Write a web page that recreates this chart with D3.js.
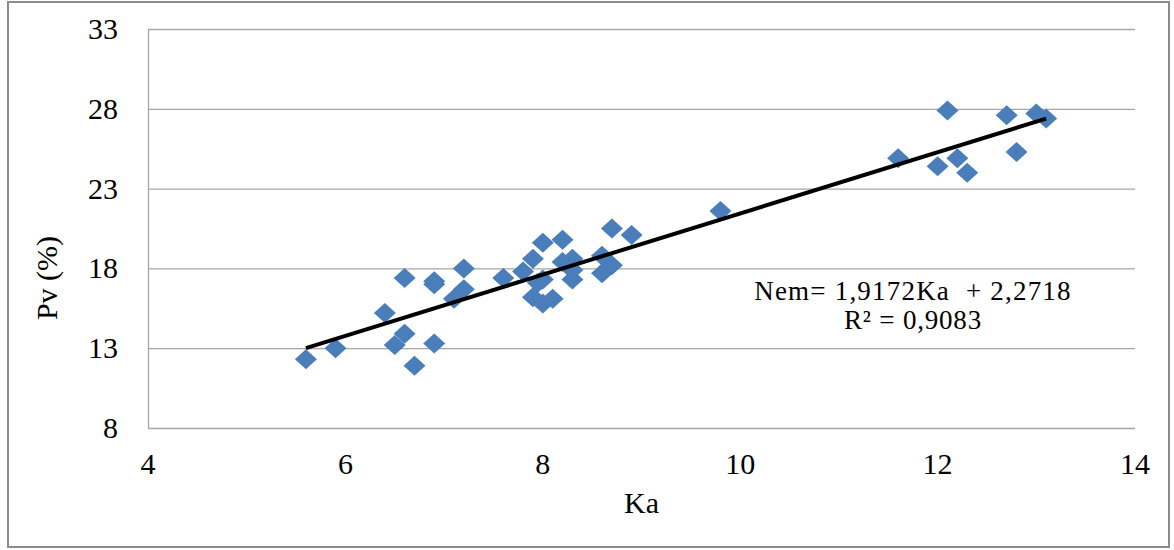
<!DOCTYPE html>
<html><head><meta charset="utf-8">
<script src="https://cdn.jsdelivr.net/npm/d3@7"></script>
<style>body{margin:0;background:#fff}</style>
</head><body>
<svg id="chart" width="1174" height="550"></svg>
<script>
const kaValues = [5.6,5.9,6.4,6.5,6.6,6.6,6.7,6.9,6.9,6.9,7.1,7.2,7.2,7.6,7.8,7.9,8.0,8.2,7.95,8.0,7.9,8.0,8.1,8.2,8.3,8.3,8.3,8.6,8.6,8.7,8.7,8.9,9.8,11.6,12.1,12.0,12.2,12.3,12.7,12.8,13.0,13.1];
const pvValues = [12.3,13.0,15.2,13.2,13.9,17.4,11.9,13.3,17.2,17.0,16.1,16.7,18.0,17.4,17.8,18.6,19.6,19.8,17.1,17.3,16.2,15.8,16.1,18.4,18.6,17.3,17.9,18.8,17.7,18.2,20.5,20.1,21.6,24.9,27.9,24.4,24.9,24.0,27.6,25.3,27.7,27.4];
const xTicks = [4,6,8,10,12,14];
const yTicks = [8,13,18,23,28,33];
const slope = 1.9172, intercept = 2.2718;
const eqLine1 = "Nem= 1,9172Ka  + 2,2718";
const eqLine2 = "R² = 0,9083";

const svg = d3.select("#chart");
const font = "'Liberation Serif','Times New Roman',serif";
const L = 148, R = 1135, T = 29, B = 428;
const x = d3.scaleLinear().domain([4,14]).range([L,R]);
const y = d3.scaleLinear().domain([8,33]).range([B,T]);

svg.append("rect").attr("x",8).attr("y",2).attr("width",1161).attr("height",545)
  .attr("fill","#fff").attr("stroke","#8c8c8c").attr("stroke-width",2);

// gridlines
svg.append("g").selectAll("line").data(yTicks).join("line")
  .attr("x1",L).attr("x2",R).attr("y1",d=>y(d)+0.5).attr("y2",d=>y(d)+0.5)
  .attr("stroke","#a6a6a6").attr("stroke-width",1.3);
svg.append("line").attr("x1",L+0.5).attr("x2",L+0.5).attr("y1",T).attr("y2",B)
  .attr("stroke","#a6a6a6").attr("stroke-width",1.3);

// tick labels
svg.append("g").selectAll("text").data(yTicks).join("text")
  .attr("x",118).attr("y",d=>y(d)+10).attr("text-anchor","end")
  .attr("font-family",font).attr("font-size",30).attr("fill","#000").text(d=>d);
svg.append("g").selectAll("text").data(xTicks).join("text")
  .attr("x",d=>x(d)).attr("y",474).attr("text-anchor","middle")
  .attr("font-family",font).attr("font-size",30).attr("fill","#000").text(d=>d);

// axis titles
svg.append("text").attr("x",x(9)).attr("y",513).attr("text-anchor","middle")
  .attr("font-family",font).attr("font-size",30).text("Ka");
svg.append("text").attr("transform","translate(57,278) rotate(-90)").attr("text-anchor","middle")
  .attr("font-family",font).attr("font-size",30).text("Pv (%)");

// points
const diamond = "M0,-10L11,0L0,10L-11,0Z";
svg.append("g").selectAll("path").data(kaValues.map((k,i)=>[k,pvValues[i]])).join("path")
  .attr("d",diamond).attr("transform",d=>`translate(${x(d[0])},${y(d[1])})`)
  .attr("fill","#4a7ebb");

// trendline (on top of points)
const x0 = d3.min(kaValues), x1 = d3.max(kaValues);
svg.append("line").attr("x1",x(x0)).attr("y1",y(slope*x0+intercept))
  .attr("x2",x(x1)).attr("y2",y(slope*x1+intercept))
  .attr("stroke","#000").attr("stroke-width",4);

// equation
svg.append("text").attr("x",913).attr("y",300).attr("text-anchor","middle")
  .attr("font-family",font).attr("font-size",27).attr("letter-spacing",1.2)
  .style("white-space","pre").text(eqLine1);
svg.append("text").attr("x",913).attr("y",329).attr("text-anchor","middle")
  .attr("font-family",font).attr("font-size",27).attr("letter-spacing",0.8).text(eqLine2);
</script>
</body></html>
